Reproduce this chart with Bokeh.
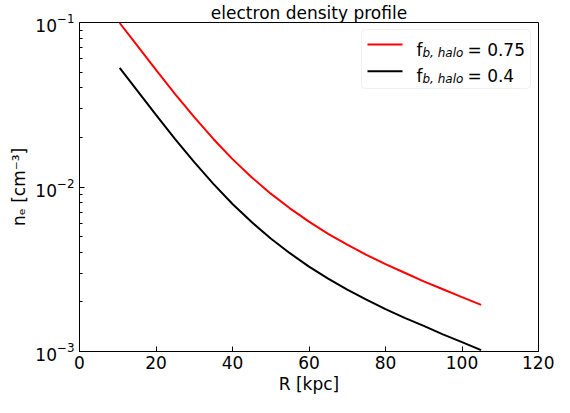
import math
from bokeh.plotting import figure
from bokeh.models import Range1d, FixedTicker, Label, BoxAnnotation, Arrow
from bokeh.embed import file_html
from bokeh.resources import INLINE

# ---- data ----
R_kpc = [10.5, 15, 20, 25, 30, 35, 40, 45, 50, 55, 60, 65, 70, 75, 80, 85, 90, 95, 100, 105]
ne_fb075 = [0.0993, 0.0728, 0.0515, 0.0367, 0.02657, 0.01959, 0.01477, 0.01147, 0.00911, 0.00742,
            0.00616, 0.00519, 0.00446, 0.00387, 0.00340, 0.00301, 0.00267, 0.00239, 0.00214, 0.00192]
ne_fb04 = [0.05297, 0.03882, 0.02748, 0.01956, 0.01417, 0.01045, 0.00788, 0.00612, 0.00486, 0.00396,
           0.00328, 0.00277, 0.00238, 0.00207, 0.00181, 0.00160, 0.00143, 0.00127, 0.00114, 0.00102]
series_values = ["0.75", "0.4"]
series_colors = ["#ff0000", "#000000"]
x_ticks = [0, 20, 40, 60, 80, 100, 120]
y_ticks = [1e-3, 1e-2, 1e-1]
title_text = "electron density profile"
x_label = "R [kpc]"
y_label = "nₑ [cm⁻³]"

FONT = "DejaVu Sans"
W, H = 554, 397
BL, BR, BT, BB = 79, 16, 20, 46
FW, FH = W - BL - BR, H - BT - BB

p = figure(width=W, height=H, output_backend="svg", toolbar_location=None,
           y_axis_type="log", x_range=Range1d(0, 120), y_range=Range1d(1e-3, 1e-1),
           min_border_left=BL, min_border_right=BR, min_border_top=BT, min_border_bottom=BB,
           title=title_text)
p.title.text_font = FONT
p.title.text_font_size = "17px"
p.title.text_font_style = "normal"
p.title.text_color = "black"
p.title.align = "center"
p.title.standoff = 0

p.background_fill_color = "white"
p.border_fill_color = "white"
p.outline_line_color = "black"
p.outline_line_width = 1
p.xgrid.visible = False
p.ygrid.visible = False

minor_y = [m * t for t in y_ticks[:-1] for m in range(2, 10)]
p.xaxis.ticker = FixedTicker(ticks=x_ticks)
p.yaxis.ticker = FixedTicker(ticks=y_ticks, minor_ticks=minor_y)
for ax in (p.xaxis, p.yaxis):
    ax.axis_line_color = "black"
    ax.major_tick_line_color = "black"
    ax.minor_tick_line_color = "black"
    ax.major_tick_in = 5
    ax.major_tick_out = 0
    ax.minor_tick_in = 3
    ax.minor_tick_out = 0
    ax.major_label_text_font = FONT
    ax.major_label_text_font_size = "17px"
    ax.major_label_text_color = "black"
    ax.axis_label_text_font = FONT
    ax.axis_label_text_font_size = "17px"
    ax.axis_label_text_font_style = "normal"
    ax.axis_label_text_color = "black"
p.xaxis.minor_tick_in = 0
p.xaxis.major_label_standoff = 4
p.yaxis.major_label_standoff = 5
p.xaxis.axis_label = x_label
p.yaxis.axis_label = y_label
p.xaxis.axis_label_standoff = 2
p.yaxis.axis_label_standoff = 3

p.line(R_kpc, ne_fb075, line_color=series_colors[0], line_width=2)
p.line(R_kpc, ne_fb04, line_color=series_colors[1], line_width=2)

# legend (built from annotations so that the subscript can be drawn)
lg_r, lg_t = FW - 8, FH - 9
lg_l, lg_b = lg_r - 169, lg_t - 59
p.add_layout(BoxAnnotation(left=lg_l, right=lg_r, bottom=lg_b, top=lg_t,
                           left_units="screen", right_units="screen",
                           bottom_units="screen", top_units="screen",
                           fill_color="white", fill_alpha=0.8, line_color="#cccccc",
                           line_width=1, border_radius=4))
rows = [(lg_t - 15, lg_t - 20.7), (lg_t - 41.7, lg_t - 46.7)]
for (ly, by), val, col in zip(rows, series_values, series_colors):
    p.add_layout(Arrow(end=None, x_start=lg_l + 6, y_start=ly, x_end=lg_l + 41, y_end=ly,
                       start_units="screen", end_units="screen", line_color=col, line_width=2))
    p.add_layout(Label(x=lg_l + 55, y=by, x_units="screen", y_units="screen", text="f",
                       text_baseline="alphabetic", text_font=FONT, text_font_size="17px",
                       text_color="black"))
    p.add_layout(Label(x=lg_l + 61, y=by - 3, x_units="screen", y_units="screen", text="b, halo",
                       text_baseline="alphabetic", text_font=FONT, text_font_size="12px",
                       text_font_style="italic", text_color="black"))
    p.add_layout(Label(x=lg_l + 106, y=by, x_units="screen", y_units="screen", text="= " + val,
                       text_baseline="alphabetic", text_font=FONT, text_font_size="17px",
                       text_color="black"))

open("out.html", "w").write(file_html(p, INLINE))
